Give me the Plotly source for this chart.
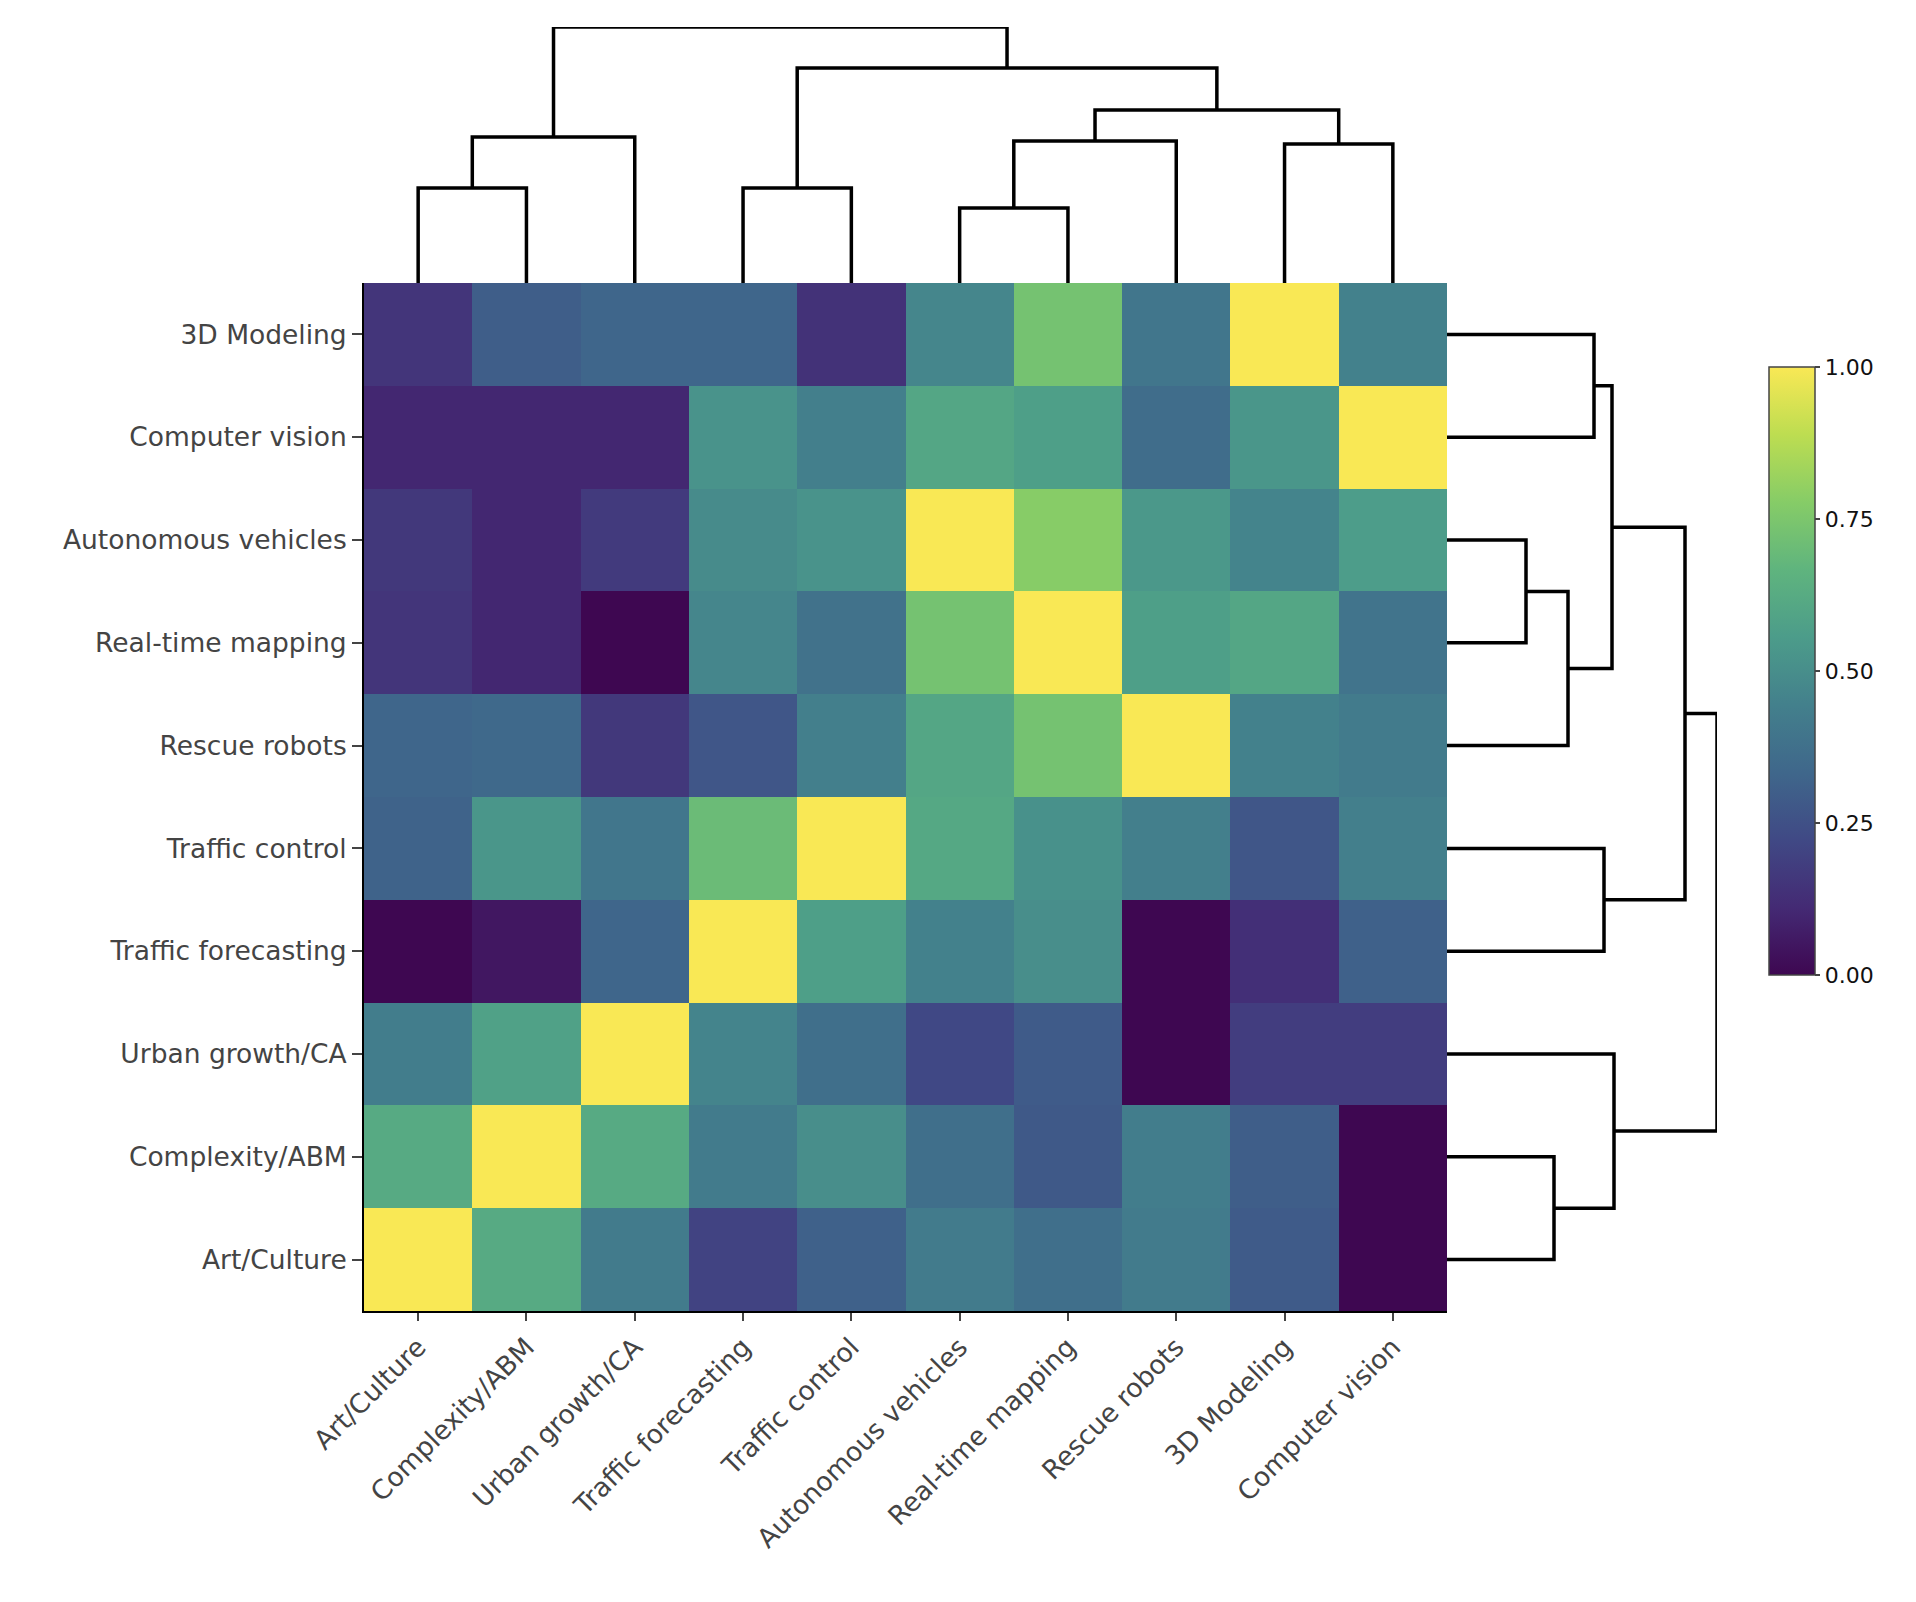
import plotly.graph_objects as go
import plotly.colors as pc

# ---------------- data ----------------
col_labels = ["Art/Culture", "Complexity/ABM", "Urban growth/CA", "Traffic forecasting",
              "Traffic control", "Autonomous vehicles", "Real-time mapping",
              "Rescue robots", "3D Modeling", "Computer vision"]
# rows listed bottom -> top
row_labels = ["Art/Culture", "Complexity/ABM", "Urban growth/CA", "Traffic forecasting",
              "Traffic control", "Rescue robots", "Real-time mapping",
              "Autonomous vehicles", "Computer vision", "3D Modeling"]

z_art   = [1.00, 0.62, 0.42, 0.20, 0.31, 0.42, 0.37, 0.42, 0.29, 0.00]
z_comp  = [0.62, 1.00, 0.62, 0.42, 0.50, 0.37, 0.28, 0.43, 0.30, 0.00]
z_urban = [0.43, 0.58, 1.00, 0.46, 0.37, 0.22, 0.29, 0.00, 0.18, 0.18]
z_tf    = [0.00, 0.05, 0.33, 1.00, 0.57, 0.45, 0.50, 0.00, 0.13, 0.31]
z_tc    = [0.32, 0.53, 0.40, 0.70, 1.00, 0.61, 0.51, 0.44, 0.27, 0.44]
z_rr    = [0.33, 0.34, 0.16, 0.27, 0.44, 0.60, 0.73, 1.00, 0.45, 0.42]
z_rtm   = [0.15, 0.10, 0.00, 0.47, 0.38, 0.73, 1.00, 0.57, 0.60, 0.39]
z_av    = [0.16, 0.10, 0.17, 0.49, 0.52, 1.00, 0.78, 0.54, 0.46, 0.56]
z_cv    = [0.10, 0.10, 0.10, 0.52, 0.44, 0.60, 0.57, 0.36, 0.53, 1.00]
z_3d    = [0.15, 0.30, 0.33, 0.33, 0.14, 0.47, 0.73, 0.40, 1.00, 0.45]

# column dendrogram (top) – linkage: leaves 0..9 in display order, merges numbered from 10
col_left   = [0, 3, 5, 8, 12, 10, 14, 11, 15]
col_right  = [1, 4, 6, 9, 7, 2, 13, 16, 17]
col_height = [0.95, 0.95, 0.75, 1.39, 1.42, 1.46, 1.73, 2.15, 2.56]

# row dendrogram (right) – leaves 0..9 bottom -> top
row_left   = [6, 0, 5, 8, 3, 12, 2, 14, 16]
row_right  = [7, 1, 10, 9, 4, 13, 11, 15, 17]
row_height = [0.79, 1.07, 1.21, 1.47, 1.57, 1.65, 1.67, 2.38, 2.70]

colorbar_ticks = [0, 0.25, 0.5, 0.75, 1.0]


def dendro(n, left, right, height):
    pos = list(range(n))
    hgt = [0.0] * n
    p, h = [], []
    for l, r, ht in zip(left, right, height):
        pl, pr = pos[l], pos[r]
        p += [pl, pl, pr, pr, None]
        h += [hgt[l], ht, ht, hgt[r], None]
        pos.append((pl + pr) / 2)
        hgt.append(ht)
    return p, h


def to_display(hexcol):
    # reproduce the wide-gamut (Display P3) encoded look of the reference screenshot
    r, g, b = pc.hex_to_rgb(hexcol)

    def lin(c):
        c = c / 255
        return c / 12.92 if c <= 0.04045 else ((c + 0.055) / 1.055) ** 2.4

    def enc(c):
        c = min(max(c, 0), 1)
        return 12.92 * c if c <= 0.0031308 else 1.055 * c ** (1 / 2.4) - 0.055

    R, G, B = lin(r), lin(g), lin(b)
    R2 = 0.8225 * R + 0.1774 * G
    G2 = 0.0332 * R + 0.9669 * G
    B2 = 0.0171 * R + 0.0724 * G + 0.9108 * B
    return "rgb(%d,%d,%d)" % tuple(round(enc(c) * 255) for c in (R2, G2, B2))


vir = pc.sequential.Viridis
cscale = [[i / (len(vir) - 1), to_display(c)] for i, c in enumerate(vir)]

W, H = 1916, 1602
hm_x0, hm_x1 = 364 / W, 1447 / W
hm_y0, hm_y1 = 1 - 1311 / H, 1 - 283 / H
top_y1 = 1 - 27 / H
right_x1 = 1717 / W

z = [z_art, z_comp, z_urban, z_tf, z_tc, z_rr, z_rtm, z_av, z_cv, z_3d]
n = len(col_labels)

fig = go.Figure()
fig.add_trace(go.Heatmap(
    z=z, x=list(range(n)), y=list(range(n)),
    colorscale=cscale, zmin=0, zmax=1,
    xaxis="x", yaxis="y", hoverinfo="skip",
    colorbar=dict(
        thickness=46, thicknessmode="pixels",
        len=608 / H, lenmode="fraction",
        x=1769 / W, xanchor="left", y=1 - 671 / H, yanchor="middle",
        xpad=0, ypad=0, outlinewidth=1.5, outlinecolor="#444",
        ticks="outside", ticklen=5, tickwidth=1.5, tickcolor="#444",
        tickvals=colorbar_ticks, tickformat=".2f",
        tickfont=dict(family="DejaVu Sans", size=22, color="#111"),
    ),
))

cx, cy = dendro(n, col_left, col_right, col_height)
fig.add_trace(go.Scatter(x=cx, y=cy, mode="lines", xaxis="x", yaxis="y2",
                         line=dict(color="black", width=3.5), hoverinfo="skip",
                         showlegend=False))
ry, rx = dendro(n, row_left, row_right, row_height)
fig.add_trace(go.Scatter(x=rx, y=ry, mode="lines", xaxis="x2", yaxis="y",
                         line=dict(color="black", width=3.5), hoverinfo="skip",
                         showlegend=False))

tick_font = dict(family="DejaVu Sans", size=26.5, color="#444")
fig.update_layout(
    width=W, height=H, autosize=False,
    margin=dict(l=0, r=0, t=0, b=0),
    paper_bgcolor="white", plot_bgcolor="rgba(0,0,0,0)",
    showlegend=False,
    xaxis=dict(domain=[hm_x0, hm_x1], range=[-0.5, n - 0.5], anchor="y",
               tickvals=list(range(n)), ticktext=col_labels, tickangle=-45,
               ticks="outside", ticklen=8, tickwidth=2, tickcolor="#444",
               showline=True, linecolor="black", linewidth=2,
               showgrid=False, zeroline=False, tickfont=tick_font, automargin=False),
    yaxis=dict(domain=[hm_y0, hm_y1], range=[-0.5, n - 0.5], anchor="x",
               tickvals=list(range(n)), ticktext=row_labels,
               ticks="outside", ticklen=10, tickwidth=2, tickcolor="#444",
               showline=True, linecolor="black", linewidth=2,
               showgrid=False, zeroline=False, tickfont=tick_font, automargin=False),
    yaxis2=dict(domain=[hm_y1, top_y1], range=[0, col_height[-1]], anchor="x",
                visible=False),
    xaxis2=dict(domain=[hm_x1, right_x1], range=[0, row_height[-1]], anchor="y",
                visible=False),
)

fig.write_html("out.html", config={"displayModeBar": False},
               post_script="document.body.style.margin='0';document.body.style.overflow='hidden';")
